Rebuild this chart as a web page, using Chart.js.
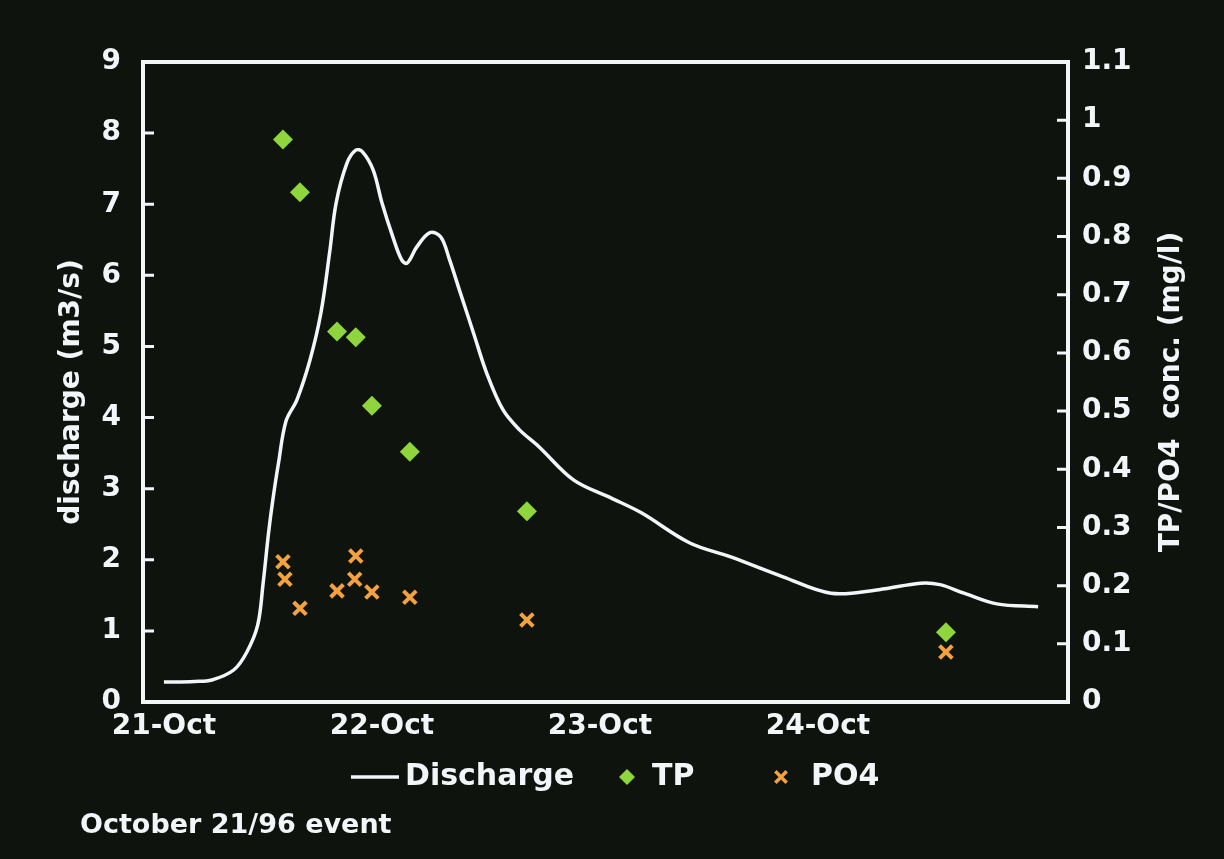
<!DOCTYPE html>
<html>
<head>
<meta charset="utf-8">
<script src="https://cdn.jsdelivr.net/npm/chart.js@4"></script>
<style>
  html, body { margin: 0; padding: 0; background: #0e130e; }
  #wrap { width: 1224px; height: 859px; position: relative; }
</style>
</head>
<body>
<div id="wrap"><canvas id="c"></canvas></div>
<script>
// ---- data (days after 21-Oct 00:00) ----
const dischargeDays = [0.00, 0.14, 0.22, 0.32, 0.38, 0.43, 0.455, 0.48, 0.50, 0.525, 0.56, 0.61, 0.67, 0.72, 0.76, 0.79, 0.84, 0.88, 0.91, 0.96, 1.00, 1.05, 1.09, 1.115, 1.16, 1.22, 1.27, 1.31, 1.36, 1.42, 1.48, 1.555, 1.63, 1.72, 1.88, 2.05, 2.19, 2.41, 2.60, 2.84, 3.06, 3.28, 3.47, 3.56, 3.67, 3.82, 4.01];
const dischargeValues = [0.28, 0.29, 0.31, 0.45, 0.70, 1.08, 1.67, 2.38, 2.85, 3.35, 3.95, 4.25, 4.81, 5.47, 6.32, 7.02, 7.58, 7.76, 7.74, 7.48, 7.02, 6.54, 6.22, 6.17, 6.40, 6.60, 6.54, 6.22, 5.75, 5.19, 4.63, 4.11, 3.83, 3.59, 3.12, 2.87, 2.66, 2.24, 2.04, 1.76, 1.53, 1.58, 1.67, 1.65, 1.53, 1.38, 1.34];

const tpDays = [0.546, 0.624, 0.794, 0.880, 0.954, 1.128, 1.665, 3.587];
const tpValues = [0.967, 0.876, 0.637, 0.627, 0.509, 0.430, 0.328, 0.120];

const po4Days = [0.546, 0.555, 0.624, 0.794, 0.880, 0.875, 0.954, 1.128, 1.665, 3.587];
const po4Values = [0.241, 0.211, 0.161, 0.191, 0.251, 0.211, 0.189, 0.180, 0.141, 0.086];

const dayTicks = [0, 1, 2, 3];
const dayLabels = ['21-Oct', '22-Oct', '23-Oct', '24-Oct'];
const leftTickValues = [0, 1, 2, 3, 4, 5, 6, 7, 8, 9];
const rightTickValues = [0, 0.1, 0.2, 0.3, 0.4, 0.5, 0.6, 0.7, 0.8, 0.9, 1.0, 1.1];
const rightTickLabels = ['0', '0.1', '0.2', '0.3', '0.4', '0.5', '0.6', '0.7', '0.8', '0.9', '1', '1.1'];

const leftTitle = 'discharge (m3/s)';
const rightTitle = 'TP/PO4  conc. (mg/l)';
const footnote = 'October 21/96 event';

// ---- styles ----
const BG = '#0e130e';
const FG = '#f3f6f8';
const TP_COLOR = '#8fd53c';
const PO4_COLOR = '#f4a23e';
const FONT = 'DejaVu Sans';

const toXY = (xs, ys) => xs.map((x, i) => ({ x: x, y: ys[i] }));

function drawMarker(ctx, style, x, y, r, color, bw) {
  ctx.save();
  if (style === 'rectRot') {
    ctx.fillStyle = color;
    ctx.beginPath();
    ctx.moveTo(x, y - r); ctx.lineTo(x + r, y); ctx.lineTo(x, y + r); ctx.lineTo(x - r, y);
    ctx.closePath(); ctx.fill();
  } else if (style === 'crossRot') {
    ctx.strokeStyle = color; ctx.lineWidth = bw; ctx.lineCap = 'butt';
    const d = r * Math.SQRT1_2;
    ctx.beginPath();
    ctx.moveTo(x - d, y - d); ctx.lineTo(x + d, y + d);
    ctx.moveTo(x + d, y - d); ctx.lineTo(x - d, y + d);
    ctx.stroke();
  } else if (style === 'line') {
    ctx.strokeStyle = color; ctx.lineWidth = bw;
    ctx.beginPath(); ctx.moveTo(x - r, y); ctx.lineTo(x + r, y); ctx.stroke();
  }
  ctx.restore();
}

const decorPlugin = {
  id: 'decor',
  beforeDraw(chart) {
    const ctx = chart.ctx;
    ctx.save();
    ctx.fillStyle = BG;
    ctx.fillRect(0, 0, chart.width, chart.height);
    ctx.restore();
  },
  afterDraw(chart) {
    const ctx = chart.ctx;
    const a = chart.chartArea;
    const ys = chart.scales.y, y2 = chart.scales.y2;
    ctx.save();
    // frame
    ctx.strokeStyle = FG;
    ctx.lineWidth = 4;
    ctx.strokeRect(a.left, a.top, a.right - a.left, a.bottom - a.top);
    // inward tick marks
    ctx.lineWidth = 3;
    ctx.beginPath();
    leftTickValues.slice(1, -1).forEach(v => {
      const p = ys.getPixelForValue(v);
      ctx.moveTo(a.left, p); ctx.lineTo(a.left + 11, p);
    });
    rightTickValues.slice(1, -1).forEach(v => {
      const p = y2.getPixelForValue(v);
      ctx.moveTo(a.right, p); ctx.lineTo(a.right - 11, p);
    });
    ctx.stroke();

    // axis titles (both read bottom-to-top)
    ctx.fillStyle = FG;
    ctx.font = 'bold 28px "' + FONT + '"';
    ctx.textAlign = 'center';
    ctx.textBaseline = 'middle';
    const midY = (a.top + a.bottom) / 2 + 10;
    ctx.save(); ctx.translate(72, midY); ctx.rotate(-Math.PI / 2); ctx.fillText(leftTitle, 0, 0); ctx.restore();
    ctx.save(); ctx.translate(1172, midY); ctx.rotate(-Math.PI / 2); ctx.fillText(rightTitle, 0, 0); ctx.restore();

    // legend
    const ds = chart.data.datasets;
    const ly = 777;
    ctx.font = 'bold 30px "' + FONT + '"';
    ctx.textAlign = 'left';
    ctx.textBaseline = 'middle';
    drawMarker(ctx, 'line', 375, ly, 24, ds[0].borderColor, 3.5);
    ctx.fillText(ds[0].label, 405, ly);
    drawMarker(ctx, 'rectRot', 627, ly, 8, ds[1].backgroundColor, 0);
    ctx.fillText(ds[1].label, 652, ly);
    drawMarker(ctx, 'crossRot', 781, ly, 8, ds[2].borderColor, 3.5);
    ctx.fillText(ds[2].label, 811, ly);

    // footnote
    ctx.font = 'bold 27px "' + FONT + '"';
    ctx.fillText(footnote, 80, 826);
    ctx.restore();
  }
};

const tickFont = { family: FONT, size: 28, weight: 'bold' };

new Chart(document.getElementById('c'), {
  type: 'scatter',
  data: {
    datasets: [
      {
        label: 'Discharge',
        type: 'line',
        data: toXY(dischargeDays, dischargeValues),
        yAxisID: 'y',
        borderColor: FG,
        borderWidth: 3.5,
        pointRadius: 0,
        fill: false,
        tension: 0.35
      },
      {
        label: 'TP',
        data: toXY(tpDays, tpValues),
        yAxisID: 'y2',
        pointStyle: 'rectRot',
        pointRadius: 10,
        backgroundColor: TP_COLOR,
        borderColor: TP_COLOR,
        borderWidth: 0
      },
      {
        label: 'PO4',
        data: toXY(po4Days, po4Values),
        yAxisID: 'y2',
        pointStyle: 'crossRot',
        pointRadius: 9,
        backgroundColor: PO4_COLOR,
        borderColor: PO4_COLOR,
        borderWidth: 4
      }
    ]
  },
  options: {
    responsive: true,
    maintainAspectRatio: false,
    animation: false,
    layout: { padding: { top: 62, left: 0, right: 0, bottom: 0 } },
    plugins: {
      legend: { display: false },
      tooltip: { enabled: false }
    },
    scales: {
      x: {
        type: 'linear',
        position: 'bottom',
        min: -0.096,
        max: 4.147,
        afterBuildTicks: s => { s.ticks = dayTicks.map(v => ({ value: v })); },
        afterFit: s => { s.height = 157; },
        grid: { display: false, drawTicks: false },
        border: { display: false },
        ticks: {
          color: FG,
          font: tickFont,
          padding: 8,
          maxRotation: 0,
          autoSkip: false,
          callback: v => dayLabels[dayTicks.indexOf(v)]
        }
      },
      y: {
        position: 'left',
        min: 0,
        max: 9,
        afterBuildTicks: s => { s.ticks = leftTickValues.map(v => ({ value: v })); },
        afterFit: s => { s.width = 143; },
        grid: { display: false, drawTicks: false },
        border: { display: false },
        ticks: { color: FG, font: tickFont, padding: 22, callback: v => String(v) }
      },
      y2: {
        position: 'right',
        min: 0,
        max: 1.1,
        afterBuildTicks: s => { s.ticks = rightTickValues.map(v => ({ value: v })); },
        afterFit: s => { s.width = 156; },
        grid: { display: false, drawTicks: false },
        border: { display: false },
        ticks: {
          color: FG, font: tickFont, padding: 14,
          callback: (v, i) => rightTickLabels[i]
        }
      }
    }
  },
  plugins: [decorPlugin]
});
</script>
</body>
</html>
